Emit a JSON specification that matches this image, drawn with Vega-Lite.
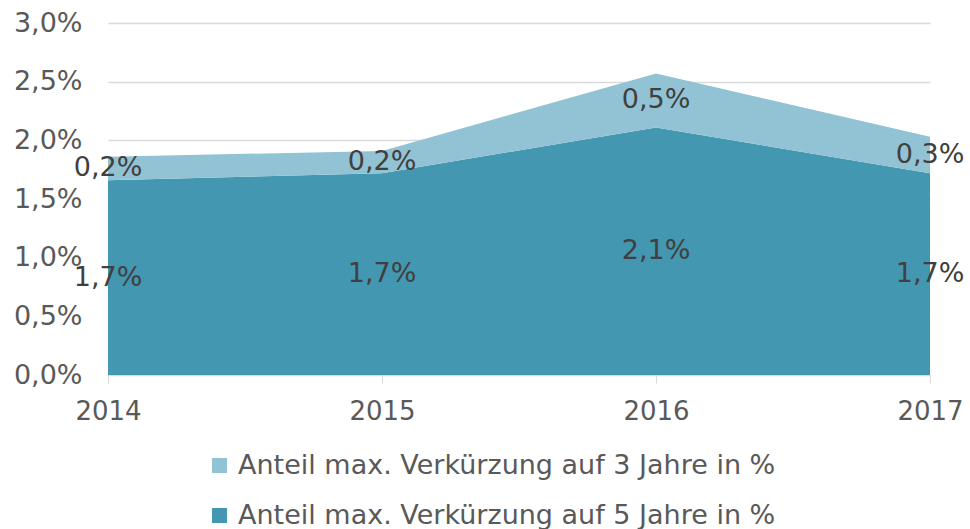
{
  "$schema": "https://vega.github.io/schema/vega-lite/v6.json",
  "width": 822,
  "height": 352,
  "autosize": {"type": "none"},
  "padding": {"left": 108, "top": 23, "right": 40, "bottom": 154},
  "background": "white",
  "config": {
    "locale": {"number": {"decimal": ",", "thousands": ".", "grouping": [3], "currency": ["", " €"]}},
    "font": "DejaVu Sans",
    "view": {"stroke": null}
  },
  "data": {
    "values": [
      {"year": "2014", "series": "Anteil max. Verkürzung auf 5 Jahre in %", "value": 0.0166},
      {"year": "2015", "series": "Anteil max. Verkürzung auf 5 Jahre in %", "value": 0.0172},
      {"year": "2016", "series": "Anteil max. Verkürzung auf 5 Jahre in %", "value": 0.0211},
      {"year": "2017", "series": "Anteil max. Verkürzung auf 5 Jahre in %", "value": 0.0172},
      {"year": "2014", "series": "Anteil max. Verkürzung auf 3 Jahre in %", "value": 0.0020},
      {"year": "2015", "series": "Anteil max. Verkürzung auf 3 Jahre in %", "value": 0.0019},
      {"year": "2016", "series": "Anteil max. Verkürzung auf 3 Jahre in %", "value": 0.0046},
      {"year": "2017", "series": "Anteil max. Verkürzung auf 3 Jahre in %", "value": 0.0031}
    ]
  },
  "transform": [
    {"stack": "value", "groupby": ["year"], "sort": [{"field": "series", "order": "descending"}], "as": ["y0", "y1"]},
    {"calculate": "(datum.y0 + datum.y1) / 2", "as": "mid"}
  ],
  "encoding": {
    "x": {
      "field": "year", "type": "ordinal",
      "scale": {"type": "point", "padding": 0},
      "axis": {
        "title": null, "labelAngle": 0, "labelFontSize": 26, "labelColor": "#595959",
        "domainColor": "#d9d9d9", "tickColor": "#d9d9d9", "tickSize": 8, "labelPadding": 15,
        "grid": false
      }
    }
  },
  "layer": [
    {
      "mark": {"type": "area", "opacity": 1, "line": false},
      "encoding": {
        "y": {
          "field": "y0", "type": "quantitative",
          "scale": {"domain": [0, 0.03], "nice": false},
          "axis": {
            "title": null, "values": [0, 0.005, 0.01, 0.015, 0.02, 0.025, 0.03], "format": ".1%",
            "labelFontSize": 27, "labelColor": "#595959", "ticks": false, "domain": false,
            "labelPadding": 26, "gridColor": "#d9d9d9", "gridWidth": 1.5
          }
        },
        "y2": {"field": "y1"},
        "color": {
          "field": "series", "type": "nominal",
          "scale": {
            "domain": ["Anteil max. Verkürzung auf 3 Jahre in %", "Anteil max. Verkürzung auf 5 Jahre in %"],
            "range": ["#92C3D4", "#4397B0"]
          },
          "legend": {
            "title": null, "orient": "none", "legendX": 98, "legendY": 429, "direction": "vertical",
            "symbolType": "square", "symbolSize": 225, "symbolStrokeWidth": 0, "symbolOpacity": 1,
            "labelFontSize": 27, "labelColor": "#595959", "labelOffset": 5, "rowPadding": 22,
            "labelLimit": 800
          }
        }
      }
    },
    {
      "mark": {"type": "text", "fontSize": 27, "color": "#404040", "baseline": "middle", "align": "center"},
      "encoding": {
        "y": {"field": "mid", "type": "quantitative"},
        "text": {"field": "value", "type": "quantitative", "format": ".1%"}
      }
    }
  ]
}
